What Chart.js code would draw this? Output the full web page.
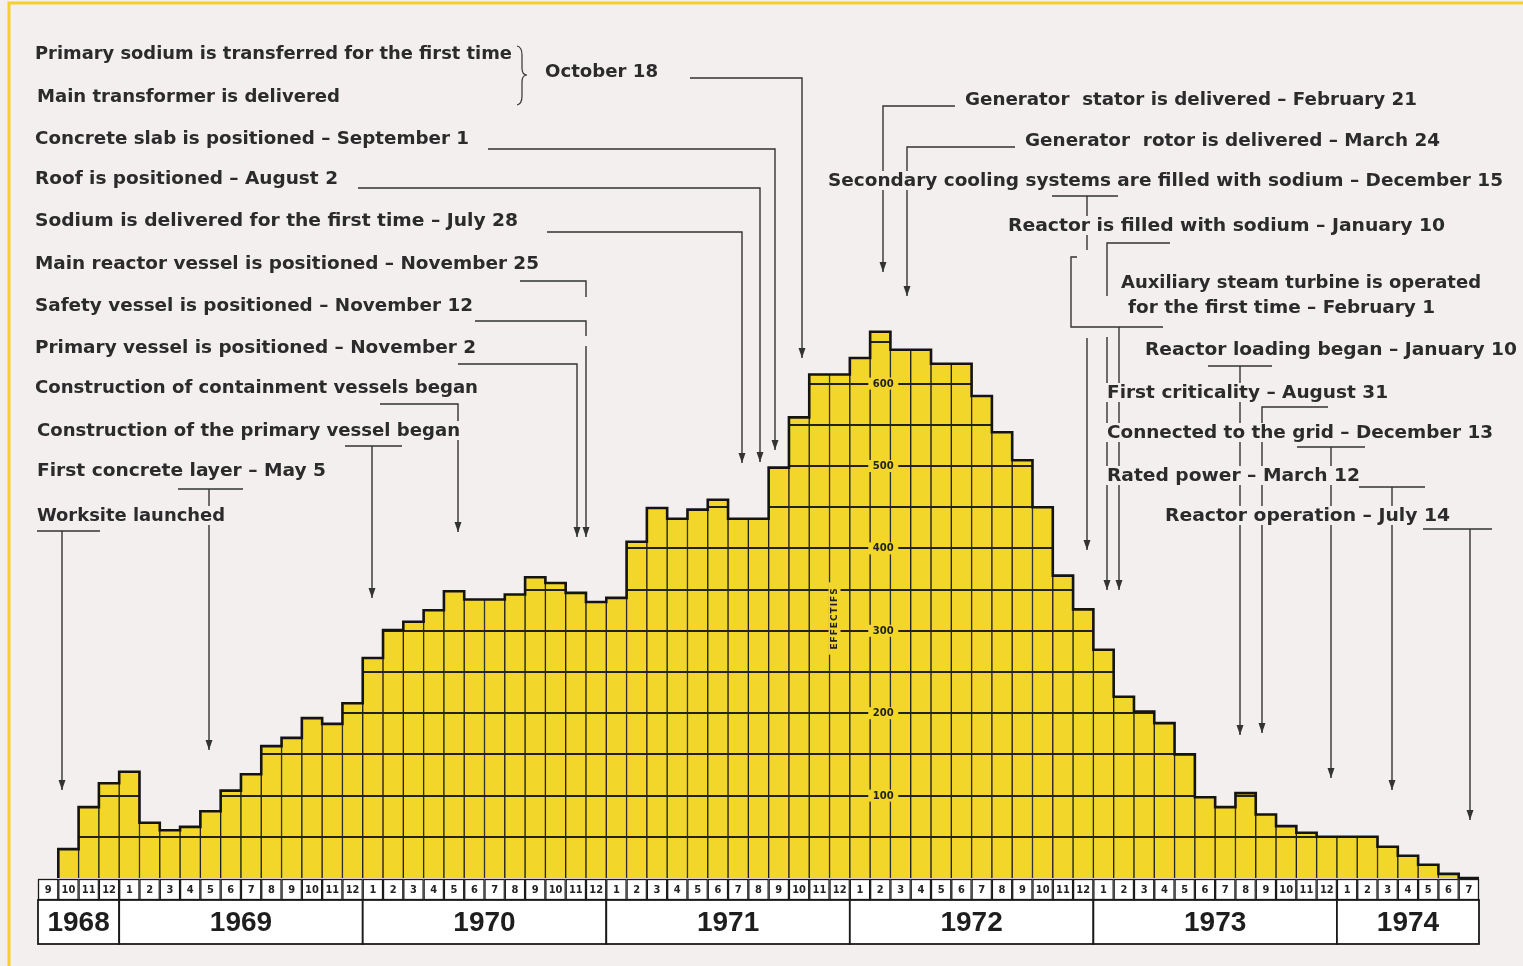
<!DOCTYPE html>
<html>
<head>
<meta charset="utf-8">
<script src="https://cdn.jsdelivr.net/npm/chart.js@4.4.1/dist/chart.umd.min.js"></script>
<style>
  html, body { margin: 0; padding: 0; background: #f3efee; }
  canvas { display: block; }
</style>
</head>
<body>
<canvas id="myChart" width="1523" height="966"></canvas>
<script>
// months shown under each bar, Sept 1968 -> July 1974
var monthNumbers = [
    9, 10, 11, 12,
    1, 2, 3, 4, 5, 6, 7, 8, 9, 10, 11, 12,
    1, 2, 3, 4, 5, 6, 7, 8, 9, 10, 11, 12,
    1, 2, 3, 4, 5, 6, 7, 8, 9, 10, 11, 12,
    1, 2, 3, 4, 5, 6, 7, 8, 9, 10, 11, 12,
    1, 2, 3, 4, 5, 6, 7, 8, 9, 10, 11, 12,
    1, 2, 3, 4, 5, 6, 7
];
var yearLabels = ['1968', '1969', '1970', '1971', '1972', '1973', '1974'];
var monthsInYear = [4, 12, 12, 12, 12, 12, 7];

// workforce on site (effectifs), one value per month
var effectifs = [
    0, 35, 86, 115,
    129, 67, 58, 62, 81, 106, 126, 160, 170, 194, 187, 212,
    267, 301, 311, 325, 348, 338, 338, 344, 365, 358, 346, 335,
    340, 408, 449, 436, 447, 459, 436, 436, 498, 559, 611, 611,
    631, 663, 641, 641, 624, 624, 585, 541, 507, 450, 367, 326,
    277, 220, 202, 188, 150, 98, 86, 103, 77, 63, 55, 50,
    50, 50, 38, 27, 16, 5, 0
];

var yTickLabels = [100, 200, 300, 400, 500, 600];
var gridStep = 50;
var gridMax = 650;
var axisTitle = 'EFFECTIFS';

// annotation texts: left x, centre y, right x
var notes = [
    ['Primary sodium is transferred for the first time', 35, 54, 512],
    ['Main transformer is delivered', 37, 97, 340],
    ['October 18', 545, 72, 658],
    ['Concrete slab is positioned – September 1', 35, 139, 469],
    ['Roof is positioned – August 2', 35, 179, 338],
    ['Sodium is delivered for the first time – July 28', 35, 221, 518],
    ['Main reactor vessel is positioned – November 25', 35, 264, 539],
    ['Safety vessel is positioned – November 12', 35, 306, 473],
    ['Primary vessel is positioned – November 2', 35, 348, 476],
    ['Construction of containment vessels began', 35, 388, 478],
    ['Construction of the primary vessel began', 37, 431, 460],
    ['First concrete layer – May 5', 37, 471, 326],
    ['Worksite launched', 37, 516, 225],
    ['Generator  stator is delivered – February 21', 965, 100, 1417],
    ['Generator  rotor is delivered – March 24', 1025, 141, 1440],
    ['Secondary cooling systems are filled with sodium – December 15', 828, 181, 1503],
    ['Reactor is filled with sodium – January 10', 1008, 226, 1445],
    ['Auxiliary steam turbine is operated', 1121, 283, 1481],
    ['for the first time – February 1', 1128, 308, 1435],
    ['Reactor loading began – January 10', 1145, 350, 1517],
    ['First criticality – August 31', 1107, 393, 1388],
    ['Connected to the grid – December 13', 1107, 433, 1493],
    ['Rated power – March 12', 1107, 476, 1360],
    ['Reactor operation – July 14', 1165, 516, 1450]
];

// leader lines (polylines); arrow = arrow head at the last point
var leaders = [
    { pts: [[690, 78], [802, 78], [802, 358]], arrow: true },
    { pts: [[488, 149], [775, 149], [775, 450]], arrow: true },
    { pts: [[358, 188], [760, 188], [760, 462]], arrow: true },
    { pts: [[547, 232], [742, 232], [742, 463]], arrow: true },
    { pts: [[520, 281], [586, 281], [586, 297]] },
    { pts: [[475, 321], [586, 321], [586, 336]] },
    { pts: [[586, 346], [586, 537]], arrow: true },
    { pts: [[458, 364], [577, 364], [577, 537]], arrow: true },
    { pts: [[380, 404], [458, 404], [458, 532]], arrow: true },
    { pts: [[345, 446], [402, 446]] },
    { pts: [[372, 446], [372, 598]], arrow: true },
    { pts: [[178, 489], [243, 489]] },
    { pts: [[209, 489], [209, 750]], arrow: true },
    { pts: [[37, 531], [100, 531]] },
    { pts: [[62, 531], [62, 790]], arrow: true },
    { pts: [[955, 106], [883, 106], [883, 272]], arrow: true },
    { pts: [[1015, 147], [907, 147], [907, 296]], arrow: true },
    { pts: [[1052, 196], [1118, 196]] },
    { pts: [[1087, 196], [1087, 250]] },
    { pts: [[1077, 257], [1071, 257], [1071, 327], [1163, 327]] },
    { pts: [[1087, 338], [1087, 550]], arrow: true },
    { pts: [[1170, 243], [1107, 243], [1107, 296]] },
    { pts: [[1107, 337], [1107, 590]], arrow: true },
    { pts: [[1119, 327], [1119, 590]], arrow: true },
    { pts: [[1208, 366], [1272, 366]] },
    { pts: [[1240, 366], [1240, 735]], arrow: true },
    { pts: [[1328, 407], [1262, 407], [1262, 733]], arrow: true },
    { pts: [[1297, 447], [1365, 447]] },
    { pts: [[1331, 447], [1331, 778]], arrow: true },
    { pts: [[1359, 487], [1425, 487]] },
    { pts: [[1392, 487], [1392, 790]], arrow: true },
    { pts: [[1423, 529], [1492, 529]] },
    { pts: [[1470, 529], [1470, 820]], arrow: true }
];

var BG = '#f3efee';
var YELLOW = '#f2d72a';
var INK = '#222';

var paperPlugin = {
    id: 'paper',
    beforeDraw: function (chart) {
        var ctx = chart.ctx;
        ctx.save();
        ctx.fillStyle = BG;
        ctx.fillRect(0, 0, chart.width, chart.height);
        ctx.strokeStyle = '#f5cf2c';
        ctx.lineWidth = 3;
        ctx.beginPath();
        ctx.moveTo(9, chart.height);
        ctx.lineTo(9, 3);
        ctx.lineTo(chart.width, 3);
        ctx.stroke();
        ctx.restore();
    }
};

// horizontal grid only inside the bars, then the thick stepped outline
var barGridPlugin = {
    id: 'barGrid',
    afterDatasetsDraw: function (chart) {
        var ctx = chart.ctx;
        var bars = chart.getDatasetMeta(0).data;
        var y = chart.scales.y;
        var base = y.getPixelForValue(0);

        ctx.save();
        ctx.beginPath();
        bars.forEach(function (b) {
            ctx.rect(b.x - b.width / 2, b.y, b.width, base - b.y);
        });
        ctx.clip();
        ctx.strokeStyle = INK;
        ctx.lineWidth = 1.8;
        for (var v = gridStep; v <= gridMax; v += gridStep) {
            var py = Math.round(y.getPixelForValue(v));
            ctx.beginPath();
            ctx.moveTo(chart.chartArea.left, py);
            ctx.lineTo(chart.chartArea.right, py);
            ctx.stroke();
        }
        ctx.restore();

        ctx.save();
        ctx.strokeStyle = '#141414';
        ctx.lineWidth = 2.6;
        ctx.lineJoin = 'miter';
        ctx.beginPath();
        var started = false;
        bars.forEach(function (b, i) {
            if (effectifs[i] <= 0 && !started) return;
            var x0 = b.x - b.width / 2, x1 = b.x + b.width / 2;
            if (!started) { ctx.moveTo(x0, base); started = true; }
            ctx.lineTo(x0, b.y);
            ctx.lineTo(x1, b.y);
        });
        ctx.stroke();
        ctx.restore();
    }
};

var axisPlugin = {
    id: 'monthAxis',
    afterDraw: function (chart) {
        var ctx = chart.ctx;
        var xs = chart.scales.x;
        var ys = chart.scales.y;
        var area = chart.chartArea;
        var colW = (area.right - area.left) / monthNumbers.length;
        var rowTop = area.bottom + 1, rowMid = rowTop + 21, rowBot = rowMid + 44;

        ctx.save();
        // month boxes
        ctx.textAlign = 'center';
        ctx.textBaseline = 'middle';
        ctx.font = 'bold 11px "DejaVu Sans Condensed", "DejaVu Sans"';
        monthNumbers.forEach(function (m, i) {
            var cx = xs.getPixelForValue(i);
            var x0 = cx - colW / 2;
            ctx.fillStyle = '#ffffff';
            ctx.fillRect(x0, rowTop, colW, rowMid - rowTop);
            ctx.strokeStyle = '#1a1a1a';
            ctx.lineWidth = 1.3;
            ctx.strokeRect(x0 + 0.5, rowTop + 0.5, colW - 1, rowMid - rowTop - 1);
            ctx.fillStyle = INK;
            ctx.fillText(String(m), cx, (rowTop + rowMid) / 2 + 1);
        });

        // year boxes
        ctx.font = 'bold 28px "Liberation Sans", Arial';
        var idx = 0;
        yearLabels.forEach(function (yr, k) {
            var x0 = xs.getPixelForValue(idx) - colW / 2;
            var x1 = xs.getPixelForValue(idx + monthsInYear[k] - 1) + colW / 2;
            ctx.fillStyle = '#ffffff';
            ctx.fillRect(x0, rowMid, x1 - x0, rowBot - rowMid);
            ctx.strokeStyle = '#1a1a1a';
            ctx.lineWidth = 1.8;
            ctx.strokeRect(x0, rowMid, x1 - x0, rowBot - rowMid);
            ctx.fillStyle = '#1e1e1e';
            ctx.fillText(yr, (x0 + x1) / 2, (rowMid + rowBot) / 2 + 1);
            idx += monthsInYear[k];
        });

        // value labels printed inside the bars (Feb 1972 column)
        var lx = xs.getPixelForValue(41) + 3;
        ctx.font = 'bold 10px "DejaVu Sans", sans-serif';
        yTickLabels.forEach(function (v) {
            var py = ys.getPixelForValue(v);
            ctx.fillStyle = YELLOW;
            ctx.fillRect(lx - 15, py - 6, 30, 12);
            ctx.fillStyle = INK;
            ctx.fillText(String(v), lx, py + 0.5);
        });

        // rotated axis title
        var tx = xs.getPixelForValue(39) - colW / 2 + 5;
        var ty = ys.getPixelForValue(315);
        ctx.translate(tx, ty);
        ctx.rotate(-Math.PI / 2);
        ctx.font = 'bold 9px "DejaVu Sans", sans-serif';
        ctx.letterSpacing = '1px';
        var tw = ctx.measureText(axisTitle).width;
        ctx.fillStyle = YELLOW;
        ctx.fillRect(-tw / 2 - 5, -6, tw + 10, 12);
        ctx.fillStyle = INK;
        ctx.fillText(axisTitle, 0, 0.5);
        ctx.restore();
    }
};

var notesPlugin = {
    id: 'notes',
    afterDraw: function (chart) {
        var ctx = chart.ctx;
        ctx.save();
        ctx.strokeStyle = '#333';
        ctx.fillStyle = '#333';
        ctx.lineWidth = 1.4;
        leaders.forEach(function (l) {
            ctx.beginPath();
            l.pts.forEach(function (p, i) {
                if (i === 0) ctx.moveTo(p[0], p[1]); else ctx.lineTo(p[0], p[1]);
            });
            ctx.stroke();
            if (l.arrow) {
                var tip = l.pts[l.pts.length - 1];
                ctx.beginPath();
                ctx.moveTo(tip[0] - 3.5, tip[1] - 10);
                ctx.lineTo(tip[0] + 3.5, tip[1] - 10);
                ctx.lineTo(tip[0], tip[1]);
                ctx.closePath();
                ctx.fill();
            }
        });

        // brace joining the two first notes
        ctx.lineWidth = 1.2;
        ctx.beginPath();
        ctx.moveTo(517, 46);
        ctx.quadraticCurveTo(522, 47, 522, 55);
        ctx.lineTo(522, 68);
        ctx.quadraticCurveTo(522, 75, 527, 75);
        ctx.quadraticCurveTo(522, 75, 522, 82);
        ctx.lineTo(522, 96);
        ctx.quadraticCurveTo(522, 104, 517, 105);
        ctx.stroke();

        // texts with a knock-out behind so the lines break around them
        ctx.font = 'bold 17px "DejaVu Sans Condensed", "DejaVu Sans"';
        ctx.textBaseline = 'middle';
        ctx.textAlign = 'left';
        notes.forEach(function (n) {
            var txt = n[0], x = n[1], y = n[2], xe = n[3];
            ctx.fillStyle = BG;
            ctx.fillRect(x - 3, y - 10, xe - x + 6, 19);
            var w = ctx.measureText(txt).width;
            ctx.save();
            ctx.translate(x, y + 1);
            ctx.scale((xe - x) / w, 1);
            ctx.fillStyle = '#2b2b2b';
            ctx.fillText(txt, 0, 0);
            ctx.restore();
        });
        ctx.restore();
    }
};

var ctx = document.getElementById('myChart').getContext('2d');
var myChart = new Chart(ctx, {
    type: 'bar',
    data: {
        labels: monthNumbers.map(String),
        datasets: [{
            label: 'Effectifs',
            data: effectifs,
            backgroundColor: YELLOW,
            borderColor: '#1f1f1f',
            borderWidth: { left: 1, right: 1, top: 0, bottom: 0 },
            barPercentage: 1,
            categoryPercentage: 1
        }]
    },
    options: {
        responsive: false,
        animation: false,
        layout: { padding: { left: 38, right: 44, top: 54, bottom: 88 } },
        scales: {
            x: { display: false },
            y: { display: false, min: 0, max: 1000 }
        },
        plugins: {
            legend: { display: false },
            tooltip: { enabled: false }
        }
    },
    plugins: [paperPlugin, barGridPlugin, axisPlugin, notesPlugin]
});
</script>
</body>
</html>
